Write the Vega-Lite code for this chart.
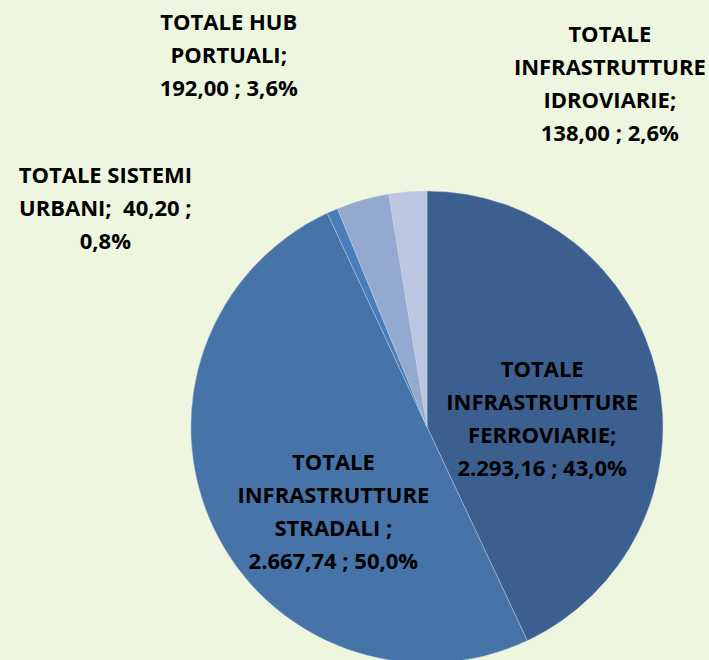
{
  "$schema": "https://vega.github.io/schema/vega-lite/v6.json",
  "width": 472,
  "height": 466,
  "autosize": "none",
  "padding": {"left": 191, "right": 46, "top": 194, "bottom": 0},
  "background": "#eef6e0",
  "config": {"view": {"stroke": null}, "text": {"font": "Open Sans", "fontWeight": "bold", "fontSize": 22, "lineHeight": 33, "align": "center", "baseline": "middle", "color": "#000000", "lineBreak": "|"}},
  "data": {
    "values": [
      {"categoria": "TOTALE INFRASTRUTTURE FERROVIARIE", "valore": 2293.16, "pct": "43,0%", "ord": 1},
      {"categoria": "TOTALE INFRASTRUTTURE STRADALI", "valore": 2667.74, "pct": "50,0%", "ord": 2},
      {"categoria": "TOTALE SISTEMI URBANI", "valore": 40.2, "pct": "0,8%", "ord": 3},
      {"categoria": "TOTALE HUB PORTUALI", "valore": 192.0, "pct": "3,6%", "ord": 4},
      {"categoria": "TOTALE INFRASTRUTTURE IDROVIARIE", "valore": 138.0, "pct": "2,6%", "ord": 5}
    ]
  },
  "encoding": {
    "theta": {"field": "valore", "type": "quantitative", "stack": true},
    "order": {"field": "ord", "type": "quantitative"}
  },
  "layer": [
    {
      "mark": {"type": "arc", "outerRadius": 236, "stroke": "#c9d6e8", "strokeWidth": 0.4},
      "encoding": {
        "color": {
          "field": "categoria",
          "type": "nominal",
          "legend": null,
          "scale": {
            "domain": ["TOTALE INFRASTRUTTURE FERROVIARIE", "TOTALE INFRASTRUTTURE STRADALI", "TOTALE SISTEMI URBANI", "TOTALE HUB PORTUALI", "TOTALE INFRASTRUTTURE IDROVIARIE"],
            "range": ["#3b5f8f", "#4673a8", "#4a7ebb", "#94a9cf", "#bbc7e0"]
          }
        }
      }
    },
    {
      "mark": {"type": "text", "radius": 118, "dx": 0, "dy": -31},
      "encoding": {"text": {"condition": {"test": "datum.ord == 1", "value": "TOTALE|INFRASTRUTTURE|FERROVIARIE;|2.293,16 ; 43,0%"}, "value": ""}}
    },
    {
      "mark": {"type": "text", "radius": 110, "dx": 6, "dy": -11},
      "encoding": {"text": {"condition": {"test": "datum.ord == 2", "value": "TOTALE|INFRASTRUTTURE|STRADALI ;|2.667,74 ; 50,0%"}, "value": ""}}
    },
    {
      "mark": {"type": "text", "radius": 236, "dx": -227, "dy": -35},
      "encoding": {"text": {"condition": {"test": "datum.ord == 3", "value": "TOTALE SISTEMI|URBANI;\u00a0 40,20 ;|0,8%"}, "value": ""}}
    },
    {
      "mark": {"type": "text", "radius": 236, "dx": -134, "dy": -177},
      "encoding": {"text": {"condition": {"test": "datum.ord == 4", "value": "TOTALE HUB|PORTUALI;|192,00 ; 3,6%"}, "value": ""}}
    },
    {
      "mark": {"type": "text", "radius": 236, "dx": 202, "dy": -157},
      "encoding": {"text": {"condition": {"test": "datum.ord == 5", "value": "TOTALE|INFRASTRUTTURE|IDROVIARIE;|138,00 ; 2,6%"}, "value": ""}}
    }
  ]
}
